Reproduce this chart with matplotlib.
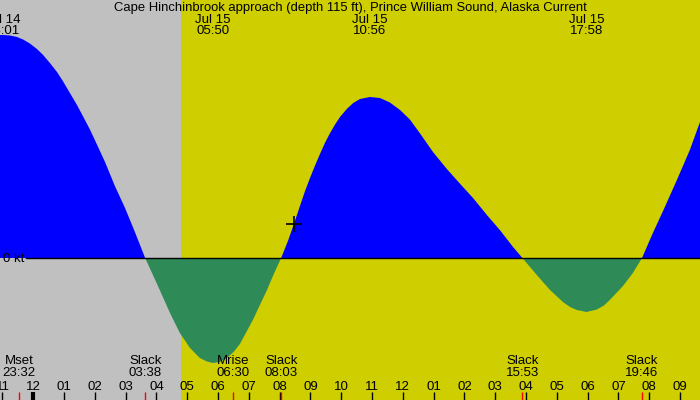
import numpy as np
import matplotlib
matplotlib.use('Agg')
import matplotlib.pyplot as plt

plt.rcParams['font.family'] = ['Liberation Sans', 'DejaVu Sans']

# Часы от полуночи 15 июля и скорость течения (узлы)
hours = [-1.08, -0.98, -0.76, -0.53, -0.33, -0.11, 0.12, 0.32, 0.54, 0.77,
         0.96, 1.19, 1.42, 1.61, 1.84, 2.00, 2.33, 2.65, 2.98, 3.30, 3.633,
         4.02, 4.44, 4.76, 5.09, 5.41, 5.64, 5.833, 6.06, 6.29, 6.52, 6.71,
         7.13, 7.59, 7.81, 8.05,
         8.27, 8.464, 8.66, 8.82, 8.98, 9.15, 9.31, 9.47, 9.63, 9.80, 9.96,
         10.18, 10.39, 10.61, 10.933, 11.26, 11.58, 11.91, 12.23, 12.56,
         12.98, 13.43, 13.85, 14.28, 14.73, 15.15, 15.58, 15.883,
         16.35, 16.78, 17.20, 17.43, 17.65, 17.967, 18.30, 18.53, 18.72,
         19.15, 19.47, 19.767, 20.12, 20.45, 20.90, 21.32, 21.65]
speed = [2.23, 2.23, 2.225, 2.21, 2.185, 2.145, 2.09, 2.03, 1.95, 1.86,
         1.77, 1.65, 1.53, 1.42, 1.285, 1.18, 0.96, 0.72, 0.50, 0.26, 0.0,
         -0.26, -0.55, -0.75, -0.90, -1.00, -1.035, -1.05, -1.04, -1.00, -0.935, -0.86,
         -0.62, -0.32, -0.16, 0.0,
         0.17, 0.34, 0.52, 0.665, 0.795, 0.925, 1.04, 1.15, 1.245, 1.335, 1.41,
         1.49, 1.55, 1.59, 1.61, 1.60, 1.555, 1.48, 1.385, 1.245,
         1.06, 0.89, 0.745, 0.60, 0.43, 0.28, 0.11, 0.0,
         -0.17, -0.32, -0.44, -0.49, -0.52, -0.54, -0.515, -0.475, -0.42,
         -0.28, -0.15, 0.0, 0.25, 0.47, 0.78, 1.08, 1.36]

# максимумы / минимумы течения (подписи сверху)
peak_times = [-0.983, 5.833, 10.933, 17.967]
peak_days = ['Jul 14', 'Jul 15', 'Jul 15', 'Jul 15']
peak_clock = ['23:01', '05:50', '10:56', '17:58']

# события снизу: штиль, луна
event_times = [-0.467, 3.633, 6.5, 8.05, 15.883, 19.767]
event_names = ['Mset', 'Slack', 'Mrise', 'Slack', 'Slack', 'Slack']
event_clock = ['23:32', '03:38', '06:30', '08:03', '15:53', '19:46']

sunrise = 4.8
now_time, now_speed = 8.464, 0.34
tick_hours = list(range(-1, 22))
tick_labels = ['%02d' % ((h % 12) or 12) for h in tick_hours]

title = 'Cape Hinchinbrook approach (depth 115 ft), Prince William Sound, Alaska Current'

h = np.array(hours)
v = np.array(speed)

fig = plt.figure(figsize=(7, 4), dpi=100)
ax = fig.add_axes([0, 0, 1, 1])
x0, x1 = -1.08, 21.65
ax.set_xlim(x0, x1)
ax.set_ylim(-1.42, 2.58)

ax.axvspan(x0, sunrise, color='#c0c0c0', lw=0)
ax.axvspan(sunrise, x1, color='#cece00', lw=0)

ax.fill_between(h, v, 0, where=v >= 0, interpolate=True, color='#0000ff', lw=0)
ax.fill_between(h, v, 0, where=v <= 0, interpolate=True, color='#2e8b57', lw=0)
ax.axhline(0, xmin=26 / 700, color='black', lw=1)
ax.text(0.004, -0.005, '0 kt', fontsize=9.5, va='center', ha='left',
        transform=ax.get_yaxis_transform())

ax.plot([now_time], [now_speed], marker='+', color='black', ms=11, mew=1.2)

tr = ax.get_xaxis_transform()
ax.text(0.5, 1 - 8 / 400, title, fontsize=9.4, ha='center', va='center',
        transform=ax.transAxes)
for t, d, c in zip(peak_times, peak_days, peak_clock):
    ax.text(t, 1 - 20 / 400, d, fontsize=9.5, ha='center', va='center', transform=tr)
    ax.text(t, 1 - 31.5 / 400, c, fontsize=9.5, ha='center', va='center', transform=tr)
for t, n, c in zip(event_times, event_names, event_clock):
    ax.text(t, 1 - 361.5 / 400, n, fontsize=9.5, ha='center', va='center', transform=tr)
    ax.text(t, 1 - 373.5 / 400, c, fontsize=9.5, ha='center', va='center', transform=tr)
    ax.vlines(t, 0, 8 / 400, color='red', lw=1, transform=tr)

ax.set_xticks(tick_hours)
ax.set_xticklabels(tick_labels, fontsize=9.5)
ax.tick_params(axis='x', direction='in', length=6, width=1, pad=-14)
ax.set_yticks([])
ax.vlines(0, 0, 8 / 400, color='black', lw=3, transform=tr)
for s in ax.spines.values():
    s.set_visible(False)

plt.savefig('out.png', dpi=100)
